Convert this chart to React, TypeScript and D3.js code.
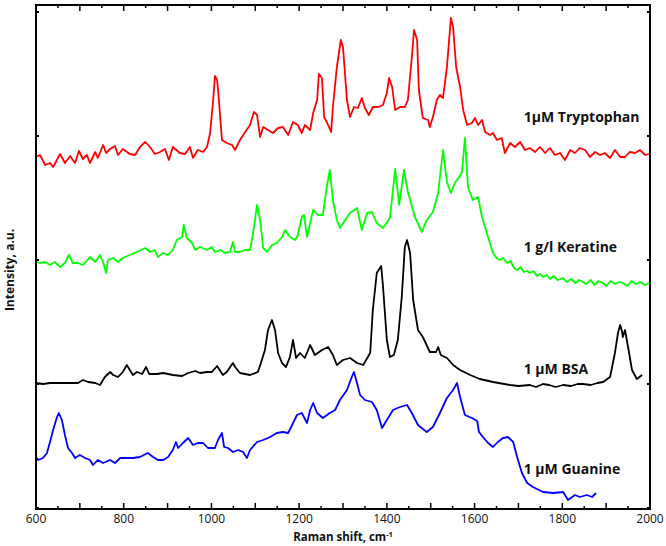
import React from "react";
import * as d3 from "d3";

const trpW = [600,609,621,632,639,655,666,678,689,698,707,716,723,735,741,753,760,769,780,787,798,814,826,837,849,860,871,883,894,903,912,928,940,951,958,969,981,990,997,1004,1008,1013,1017,1024,1035,1047,1054,1065,1077,1088,1097,1104,1111,1118,1129,1140,1152,1163,1175,1186,1197,1206,1213,1225,1232,1241,1245,1252,1257,1263,1273,1277,1286,1295,1300,1309,1316,1325,1334,1343,1350,1359,1368,1380,1391,1400,1405,1412,1419,1430,1441,1448,1457,1462,1469,1473,1482,1494,1498,1505,1514,1521,1528,1537,1546,1551,1558,1567,1574,1583,1594,1601,1608,1617,1624,1635,1642,1651,1662,1669,1681,1692,1704,1715,1726,1738,1749,1761,1772,1783,1795,1806,1818,1829,1840,1852,1863,1875,1886,1897,1909,1920,1932,1943,1954,1966,1977,1989,1998];
const trpV = [351,353,343,345,341,354,345,352,345,357,349,353,345,356,350,363,355,359,362,353,359,354,353,361,366,361,354,356,359,348,361,355,354,361,350,358,356,361,375,408,432,428,408,368,365,363,358,368,376,383,396,393,371,381,378,375,380,381,373,386,383,375,383,378,395,408,434,430,391,386,376,401,441,468,461,408,391,401,400,410,400,393,401,401,403,415,430,421,398,401,401,408,451,478,468,418,390,388,381,391,408,413,410,441,490,481,441,421,398,383,385,390,383,388,376,373,375,368,370,355,365,361,366,358,360,356,361,355,360,353,355,348,358,355,360,358,351,356,353,355,350,358,351,351,356,355,358,353,354];

const kerW = [600,609,621,632,643,655,666,675,684,696,707,723,735,746,753,760,764,776,787,798,814,830,849,860,871,878,890,901,912,921,933,937,944,956,963,974,990,1001,1008,1020,1031,1042,1049,1054,1065,1077,1088,1095,1104,1111,1118,1127,1138,1149,1161,1168,1179,1191,1197,1206,1211,1218,1225,1232,1243,1254,1263,1270,1277,1286,1293,1305,1316,1332,1343,1355,1366,1377,1391,1407,1419,1428,1439,1448,1464,1480,1491,1505,1517,1528,1537,1546,1555,1571,1578,1585,1596,1608,1617,1628,1642,1650,1658,1665,1674,1682,1690,1697,1705,1712,1720,1726,1735,1742,1750,1756,1765,1772,1780,1790,1802,1810,1820,1830,1838,1847,1855,1865,1873,1882,1893,1900,1910,1920,1930,1938,1948,1958,1968,1978,1988,1998];
const kerV = [246,245,246,243,246,241,245,253,245,245,243,251,246,253,246,235,248,250,246,250,253,256,260,256,258,251,255,253,258,268,271,283,270,265,258,261,258,261,256,258,255,256,266,256,256,258,258,275,303,288,260,256,263,265,271,278,271,268,273,291,293,271,285,298,293,293,321,338,308,288,280,288,295,300,278,295,296,285,280,290,339,303,338,316,291,276,288,296,315,358,326,315,325,335,370,321,308,311,291,275,255,250,248,250,245,247,240,238,241,236,237,235,237,232,234,231,233,229,232,228,230,226,229,225,228,226,224,228,223,227,225,222,227,224,226,225,222,227,224,226,223,225];

const bsaW = [600,616,632,655,678,696,707,719,735,746,757,769,776,787,798,807,814,821,830,842,851,858,876,890,912,933,947,963,974,990,1001,1013,1026,1035,1049,1054,1065,1088,1106,1115,1122,1129,1138,1145,1152,1161,1170,1179,1186,1193,1202,1213,1225,1236,1252,1266,1277,1286,1300,1316,1332,1346,1362,1368,1377,1387,1391,1400,1407,1416,1425,1434,1441,1446,1453,1460,1471,1482,1498,1512,1517,1523,1537,1551,1567,1590,1612,1642,1681,1700,1726,1740,1756,1770,1785,1802,1820,1835,1847,1865,1880,1893,1909,1920,1927,1932,1936,1938,1943,1950,1959,1970,1982];
const bsaV = [125,124,125,125,125,125,128,126,125,123,131,136,133,131,136,143,138,133,136,134,141,134,134,135,133,132,135,137,135,136,136,142,133,136,145,141,135,133,136,148,158,178,188,178,155,145,141,151,168,150,155,150,163,153,158,161,153,143,148,150,145,143,155,198,235,242,223,168,151,153,168,211,261,268,255,208,178,171,156,156,161,153,150,143,138,133,129,126,123,122,123,121,124,123,121,123,122,124,124,123,125,126,131,155,175,183,177,171,178,161,138,129,133];

const guaW = [600,605,616,625,632,639,648,652,659,666,673,682,689,700,712,723,730,741,753,769,780,792,807,821,837,855,867,878,890,901,912,919,924,935,947,958,969,981,992,1008,1015,1024,1029,1038,1049,1061,1072,1081,1088,1104,1118,1134,1149,1163,1175,1184,1195,1206,1218,1225,1232,1241,1254,1270,1282,1293,1309,1320,1325,1332,1339,1350,1366,1377,1389,1400,1414,1430,1446,1457,1471,1491,1505,1521,1537,1551,1560,1567,1578,1594,1606,1610,1619,1631,1642,1653,1665,1676,1688,1697,1708,1720,1733,1756,1779,1802,1813,1829,1840,1856,1868,1877];
const guaV = [51,48,50,55,66,78,91,95,88,73,60,55,50,53,50,48,43,48,45,48,45,50,50,50,51,55,51,48,48,51,58,66,60,65,70,63,65,65,60,60,68,75,61,60,56,58,56,50,58,66,68,71,75,76,75,83,93,95,85,98,105,95,90,95,98,108,118,131,136,125,113,108,106,98,80,88,98,101,103,95,83,76,81,95,110,118,125,111,93,90,87,76,71,65,61,66,70,71,66,51,35,25,21,16,15,16,8,13,11,13,11,15];

const seriesNames = ["1μM Tryptophan", "1 g/l Keratine", "1 μM BSA", "1 μM Guanine"];
const seriesColors = ["#ff0000", "#00ff00", "#000000", "#0000ff"];
const labelValues = [390, 260, 138, 38];

const xTicks = d3.range(600, 2001, 50);
const xLabels = [600, 800, 1000, 1200, 1400, 1600, 1800, 2000];
const yTicks = [0, 124, 248, 372, 496];

export default function App() {
  const W = 666, H = 546;
  const L = 36, R = 650, T = 5, B = 509;
  const x = d3.scaleLinear().domain([600, 2000]).range([L, R]);
  const y = d3.scaleLinear().domain([0, 496]).range([508, 12]);
  const data = [
    [trpW, trpV],
    [kerW, kerV],
    [bsaW, bsaV],
    [guaW, guaV],
  ];
  const line = d3.line<[number, number]>().x(d => x(d[0])).y(d => y(d[1]));
  const font = "'Open Sans', 'DejaVu Sans', sans-serif";
  return (
    <div style={{ position: "absolute", left: 0, top: 0 }}>
      <svg width={W} height={H} style={{ display: "block", background: "#fff" }}>
        {data.map(([ws, vs], i) => (
          <path key={i} d={line(ws.map((w, j) => [w, vs[j]]) as [number, number][]) || ""}
            fill="none" stroke={seriesColors[i]} strokeWidth={1.8} strokeLinejoin="round" />
        ))}
        {seriesNames.map((n, i) => (
          <text key={n} x={x(1712)} y={y(labelValues[i])} fontFamily={font} fontWeight={700}
            fontSize={14} fill="#111" dominantBaseline="middle">{n}</text>
        ))}
        <rect x={L} y={T} width={R - L} height={B - T} fill="none" stroke="#000" strokeWidth={2} />
        {xTicks.map(t => {
          const major = t % 100 === 0;
          const len = major ? 6 : 3;
          return (
            <g key={t}>
              <line x1={x(t)} x2={x(t)} y1={B} y2={B - len} stroke="#000" strokeWidth={1.5} />
              <line x1={x(t)} x2={x(t)} y1={T} y2={T + len} stroke="#000" strokeWidth={1.5} />
            </g>
          );
        })}
        {yTicks.map(t => (
          <g key={t}>
            <line x1={L} x2={L + 3} y1={y(t)} y2={y(t)} stroke="#000" strokeWidth={2} />
            <line x1={R} x2={R - 3} y1={y(t)} y2={y(t)} stroke="#000" strokeWidth={2} />
          </g>
        ))}
        {xLabels.map(t => (
          <text key={t} x={x(t)} y={523} textAnchor="middle" fontFamily={font} fontWeight={500} fontSize={12} fill="#111">{t}</text>
        ))}
        <text x={(L + R) / 2} y={541} textAnchor="middle" fontFamily={font} fontWeight={700} fontSize={11.5} fill="#111">
          Raman shift, cm<tspan dy={-4} fontSize={7.5}>-1</tspan>
        </text>
        <text transform={`translate(14, ${270}) rotate(-90)`} textAnchor="middle" fontFamily={font}
          fontWeight={700} fontSize={12} fill="#111">Intensity, a.u.</text>
      </svg>
    </div>
  );
}
